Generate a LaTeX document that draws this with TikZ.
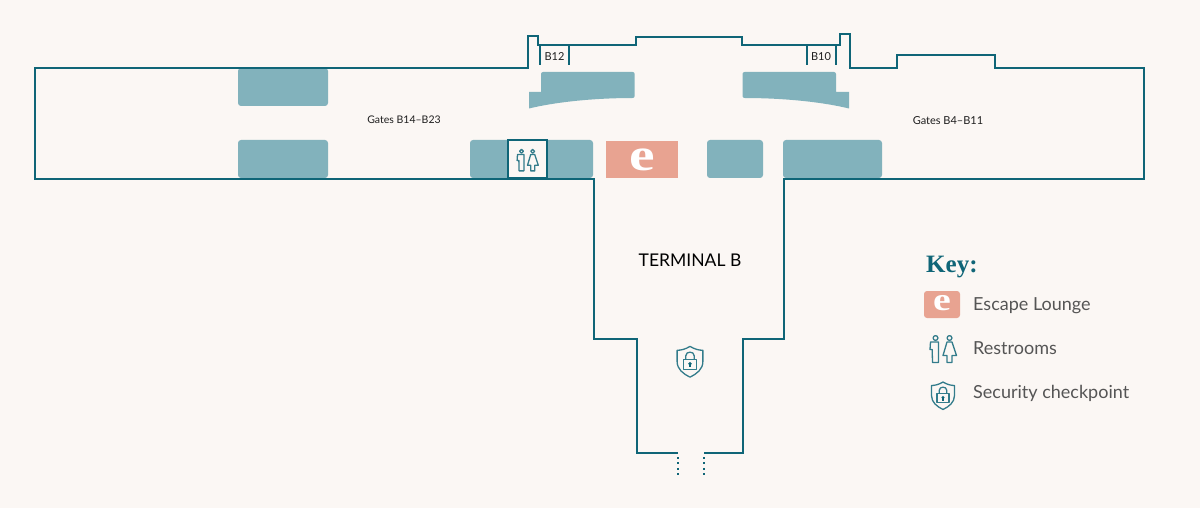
\documentclass[tikz,border=0pt]{standalone}
\usepackage{fontspec}
\setmainfont{Lato}
\newfontfamily\keyfont{Liberation Serif}
\usetikzlibrary{arrows.meta, positioning, calc}

\definecolor{paper}{HTML}{FBF7F4}
\definecolor{wall}{HTML}{0F6577}
\definecolor{block}{HTML}{82B2BC}
\definecolor{salmon}{HTML}{E8A391}
\definecolor{inktext}{HTML}{1E1E1E}
\definecolor{keytext}{HTML}{555555}

\tikzset{
    wallline/.style={draw=wall,line width=2.7pt,line join=miter},
    dotline/.style={draw=wall,line width=2.7pt,dash pattern=on 2pt off 3.4pt},
    blockbox/.style={fill=block,rounded corners=3pt},
    gatetext/.style={text=inktext,font=\fontsize{10.5}{10}\selectfont,inner sep=0pt},
    keylabel/.style={text=keytext,font=\fontsize{18}{18}\selectfont,anchor=base west,inner sep=0pt},
    eletter/.style={text=white,inner sep=0pt},
    iconline/.style={draw=wall!85,line width=1.3pt,line join=round},
    restroomicon/.pic={
        % man
        \draw[iconline] (-7.5,-11.5) circle (2.4);
        \draw[iconline] (-4.5,0) -- (-4.5,-7.5) -- (-12.5,-7.5) -- (-13,0) -- (-10.8,0) -- (-10.5,13) -- (-4.5,13) -- cycle;
        % woman
        \draw[iconline] (6.5,-11.5) circle (2.4);
        \draw[iconline] (4,-7.5) -- (9,-7.5) -- (13.5,6) -- (9,6) -- (9,13) -- (4,13) -- (4,6) -- (0,6) -- cycle;
    },
    shieldicon/.pic={
        % shield
        \draw[iconline] (0,-13.5) .. controls (4,-11) and (8,-10) .. (11.5,-10) -- (11.5,0) .. controls (11.5,7) and (6,11) .. (0,14) .. controls (-6,11) and (-11.5,7) .. (-11.5,0) -- (-11.5,-10) .. controls (-8,-10) and (-4,-11) .. cycle;
        % padlock
        \draw[iconline] (-6,-2) rectangle (6,7);
        \draw[iconline] (-3.8,-2) -- (-3.8,-5) .. controls (-3.8,-9.5) and (3.8,-9.5) .. (3.8,-5) -- (3.8,-2);
        \fill[wall] (0,2) circle (1.6);
        \fill[wall] (-0.7,2) rectangle (0.7,5);
    }
}

\begin{document}
\begin{tikzpicture}[x=1pt,y=-1pt]
    \useasboundingbox[fill=paper] (0,0) rectangle (1200,508);

    % Seating blocks
    \fill[blockbox] (238,68) rectangle (328,106);
    \fill[blockbox] (238,140) rectangle (328,178);
    \fill[blockbox] (470,140) rectangle (593,178);
    \fill[blockbox] (707,140) rectangle (763,178);
    \fill[blockbox] (783,140) rectangle (882,178);

    % Curved blocks by the gates
    \fill[block] (634.7,96) -- (634.7,74) arc[start angle=0,end angle=-90,radius=2] -- (543,72) arc[start angle=-90,end angle=-180,radius=2] -- (541,92) -- (529,92) -- (529,108.5) .. controls (560,101) and (600,98) .. (632.7,98) arc[start angle=90,end angle=0,radius=2] -- cycle;
    \fill[block] (742.5,96) -- (742.5,74) arc[start angle=180,end angle=270,radius=2] -- (834,72) arc[start angle=270,end angle=360,radius=2] -- (836,92) -- (849,92) -- (849,108.5) .. controls (818,101) and (778,98) .. (744.5,98) arc[start angle=90,end angle=180,radius=2] -- cycle;

    % Escape Lounge
    \fill[salmon] (606,141) rectangle (678,178.5);
    \node[eletter,font=\keyfont\bfseries\fontsize{46}{46}\selectfont] (loungemark) at (642,159.5) {\scalebox{1.25}[1]{e}};

    % Terminal outline
    \draw[wallline] (678,453) -- (637,453) -- (637,339) -- (594,339) -- (594,179) -- (35,179) -- (35,68) -- (528,68) -- (528,36) -- (538,36) -- (538,45) -- (636,45) -- (636,37) -- (742,37) -- (742,45) -- (840,45) -- (840,34) -- (850,34) -- (850,68) -- (897,68) -- (897,55) -- (995,55) -- (995,68) -- (1144,68) -- (1144,179) -- (784,179) -- (784,339) -- (743,339) -- (743,453) -- (704,453);

    % Gate walls
    \draw[wallline] (540,45) -- (540,65);
    \draw[wallline] (569,45) -- (569,65);
    \draw[wallline] (807,45) -- (807,65);
    \draw[wallline] (836,45) -- (836,65);

    % Entrance
    \draw[dotline] (678,457) -- (678,475);
    \draw[dotline] (704,457) -- (704,475);

    % Restrooms on the plan
    \draw[wallline,fill=paper] (508,140) rectangle (547,178);
    \pic[scale=0.8] at (527.5,160.5) {restroomicon};

    % Security on the plan
    \pic[scale=1.12] at (690,361.5) {shieldicon};

    % Labels
    \node[gatetext] (gatesleft) at (404,120) {Gates B14--B23};
    \node[gatetext,font=\fontsize{11}{11}\selectfont] (gatesright) at (948,120.5) {Gates B4--B11};
    \node[gatetext,font=\fontsize{11}{11}\selectfont] (gateBtwelve) at (554.5,57) {B12};
    \node[gatetext,font=\fontsize{11}{11}\selectfont] (gateBten) at (821,57) {B10};
    \node[text=black,inner sep=0pt,font=\fontsize{17.5}{18}\selectfont] (terminalB) at (690,260) {TERMINAL B};

    % Key
    \node[text=wall,inner sep=0pt,anchor=west,font=\keyfont\bfseries\fontsize{25}{26}\selectfont] (keytitle) at (926,267) {Key:};
    \fill[salmon,rounded corners=3pt] (924,291) rectangle (960,318);
    \node[eletter,font=\keyfont\bfseries\fontsize{32}{32}\selectfont] (keylounge) at (942,303.5) {\scalebox{1.25}[1]{e}};
    \node[keylabel] (keyloungetext) at (973,310.5) {Escape Lounge};
    \pic at (943,349.5) {restroomicon};
    \node[keylabel] (keyroomtext) at (973,354) {Restrooms};
    \pic at (943,395.5) {shieldicon};
    \node[keylabel] (keysectext) at (973,398.5) {Security checkpoint};
\end{tikzpicture}
\end{document}
